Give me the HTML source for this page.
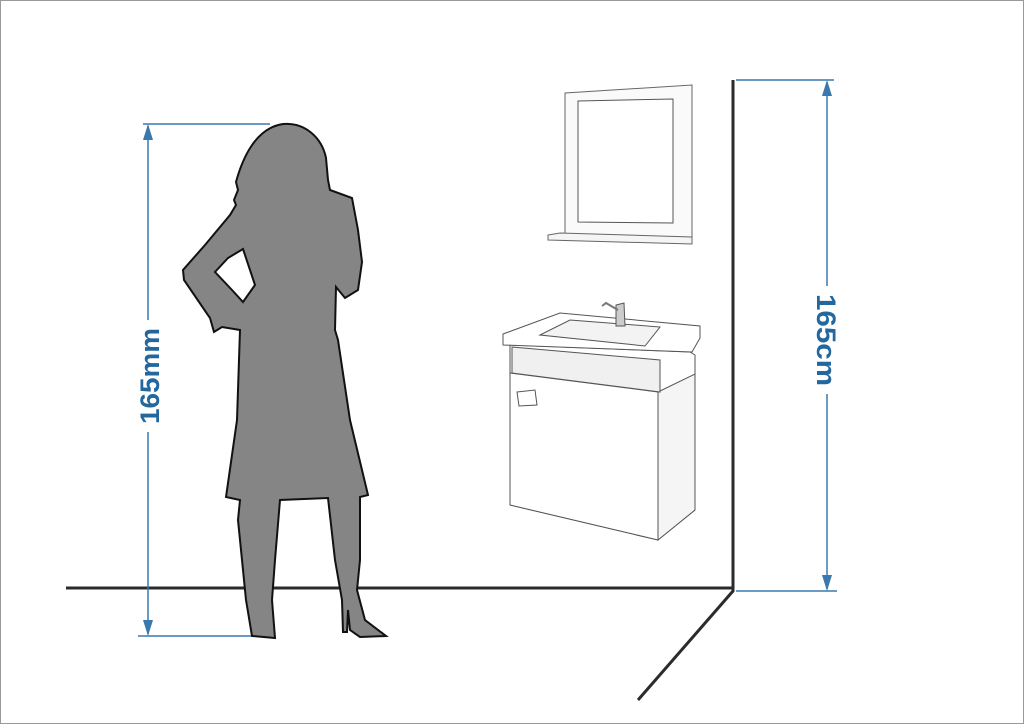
<!DOCTYPE html>
<html><head><meta charset="utf-8"><style>
html,body{margin:0;padding:0;background:#fff}
svg{display:block}
text{font-family:"Liberation Sans",sans-serif;font-weight:bold;fill:#23679f}
</style></head><body>
<svg width="1024" height="724" viewBox="0 0 1024 724" xmlns="http://www.w3.org/2000/svg">
<rect x="0.5" y="0.5" width="1023" height="723" fill="#fff" stroke="#999" stroke-width="1"/>
<g stroke="#2b2b2b" stroke-width="3" fill="none">
<line x1="66" y1="588" x2="733" y2="588"/>
<line x1="733" y1="80" x2="733" y2="592"/>
<line x1="733" y1="591" x2="638" y2="700"/>
</g>
<g stroke="#3a78ad" stroke-width="1.5" fill="#3a78ad">
<line x1="143" y1="124" x2="270" y2="124"/>
<line x1="138" y1="636" x2="272" y2="636"/>
<line x1="148" y1="126" x2="148" y2="320"/>
<line x1="148" y1="432" x2="148" y2="634"/>
<polygon points="148,124 143,140 153,140" stroke="none"/>
<polygon points="148,636 143,620 153,620" stroke="none"/>
<line x1="736" y1="80" x2="834" y2="80"/>
<line x1="736" y1="591" x2="837" y2="591"/>
<line x1="827" y1="82" x2="827" y2="286"/>
<line x1="827" y1="394" x2="827" y2="589"/>
<polygon points="827,80 822,96 832,96" stroke="none"/>
<polygon points="827,591 822,575 832,575" stroke="none"/>
</g>
<text x="0" y="0" font-size="27" text-anchor="middle" textLength="96" lengthAdjust="spacingAndGlyphs" transform="translate(159,376) rotate(-90)">165mm</text>
<text x="0" y="0" font-size="27" text-anchor="middle" textLength="92" lengthAdjust="spacingAndGlyphs" transform="translate(817,340) rotate(90)">165cm</text>
<path fill="#858585" stroke="#111" stroke-width="2" fill-rule="evenodd" d="
M283,124 C305,122 322,138 326,158 L328,180 L330,190 L352,198 L358,230 L362,262 L358,290 L345,298 L336,287 L335,330 L338,340 L350,420 L368,495 L360,497
L360,560 L357,590 L365,620 L386,636 L360,637 L350,630 L348,610 L347,632 L343,632 L342,600 L335,560 L328,498 L280,500
L275,560 L272,600 L275,638 L252,636 L246,600 L238,520 L240,500 L226,497 L237,420 L240,330
L222,327 L214,332 L210,318 L184,280 L183,270 L205,245 L230,215 L236,205 L234,200 L238,190 L236,182 C242,160 255,128 283,124 Z
M243,249 L255,285 L243,302 L232,290 L215,272 L228,258 Z"/>
<g stroke="#666" stroke-width="1" fill="#fff">
<polygon points="565,93 692,85 692,242 565,240" fill="#fafafa"/>
<polygon points="578,101 673,99 673,223 578,222" stroke="#555" fill="#fff"/>
<polygon points="548,235 560,233 692,237 692,244 548,240" fill="#f5f5f5"/>
</g>
<g stroke="#555" stroke-width="1" fill="#fff">
<polygon points="510,345 690,352 695,355 695,510 658,540 510,505" fill="#fff"/>
<polygon points="658,392 695,374 695,510 658,540" fill="#f5f5f5"/>
<polygon points="510,373 658,392 658,540 510,505"/>
<polygon points="512,347 660,360 660,392 512,373" fill="#f0f0f0"/>
<polygon points="503,334 560,313 700,326 700,338 692,352 503,345" fill="#fff"/>
<polygon points="540,335 570,320 660,327 645,346" fill="#f3f3f3"/>
<polygon points="517,392 535,390 537,405 519,406" />
<path d="M616,326 L616,305 L624,303 L625,326 Z" fill="#ccc"/>
<path d="M618,310 L606,303 L602,306" fill="none" stroke="#777" stroke-width="2"/>
</g>
</svg>
</body></html>
